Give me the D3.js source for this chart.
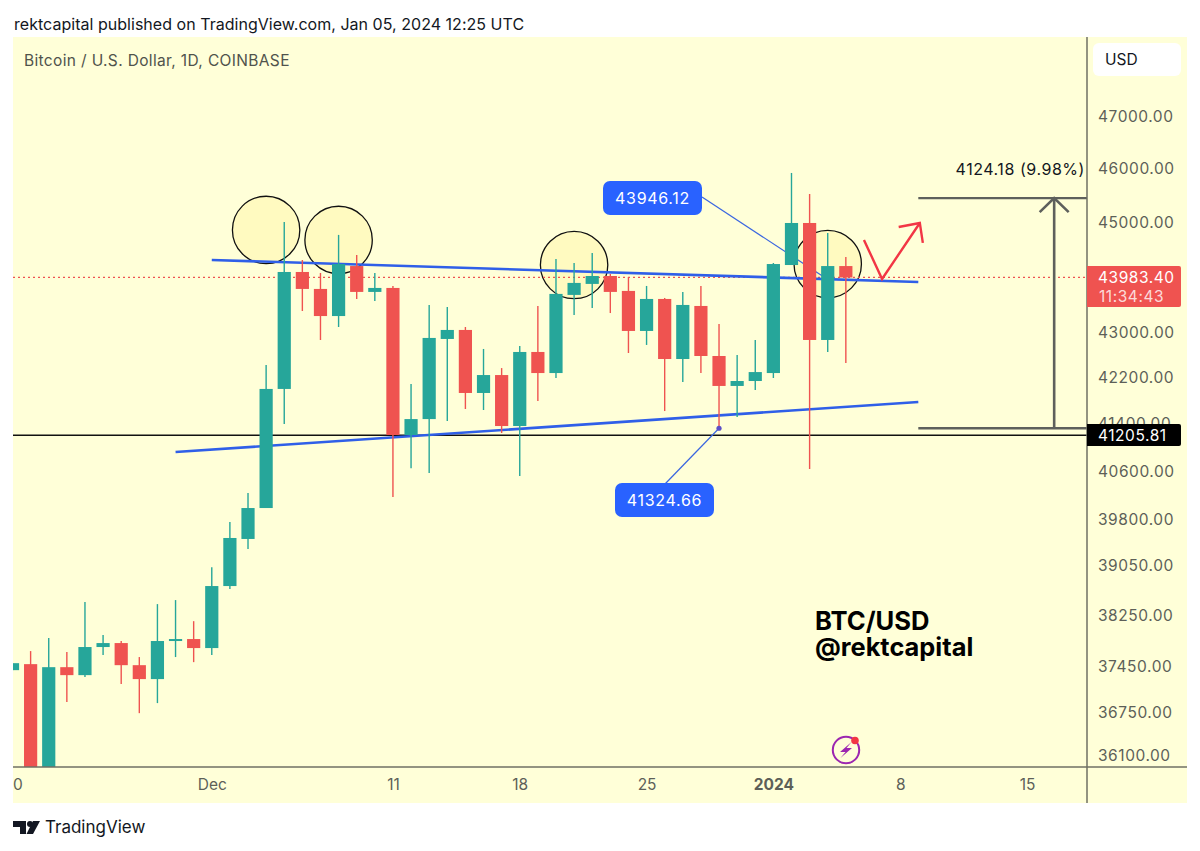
<!DOCTYPE html>
<html><head><meta charset="utf-8">
<script src="https://cdnjs.cloudflare.com/ajax/libs/d3/7.8.5/d3.min.js"></script>
<style>html,body{margin:0;padding:0;background:#fff}svg{display:block}text{font-family:Inter,"Noto Sans",sans-serif}</style>
</head><body><svg id="c" width="1200" height="851"></svg>
<script>
const dates=["2023-11-20","2023-11-21","2023-11-22","2023-11-23","2023-11-24","2023-11-25","2023-11-26","2023-11-27","2023-11-28","2023-11-29","2023-11-30","2023-12-01","2023-12-02","2023-12-03","2023-12-04","2023-12-05","2023-12-06","2023-12-07","2023-12-08","2023-12-09","2023-12-10","2023-12-11","2023-12-12","2023-12-13","2023-12-14","2023-12-15","2023-12-16","2023-12-17","2023-12-18","2023-12-19","2023-12-20","2023-12-21","2023-12-22","2023-12-23","2023-12-24","2023-12-25","2023-12-26","2023-12-27","2023-12-28","2023-12-29","2023-12-30","2023-12-31","2024-01-01","2024-01-02","2024-01-03","2024-01-04","2024-01-05"];
const opens=[37392,37485,35770,37438,37315,37751,37813,37469,37254,37845,37876,37735,38715,39476,39984,42002,44083,43775,43287,44191,43721,43793,41210,41482,42879,43039,41932,42244,41363,42649,42279,43667,43866,44010,43739,43021,43594,42525,43468,42578,42054,42140,42279,44210,44985,42861,44191];
const highs=[37500,37688,37892,37673,38459,37939,37845,37595,38427,38491,38157,39019,39752,40233,42418,45004,44302,44065,44764,44394,44065,43829,42088,43486,43450,43092,42702,42366,42755,43468,44321,44247,44431,44046,43992,43829,43612,43721,43829,43145,42596,42861,44247,45925,45529,44801,44357];
const lows=[37392,35640,35650,36902,37285,37626,37177,36733,36886,37595,37516,37626,38667,39312,39984,41397,43377,42861,43092,43594,43558,40167,40649,40566,41448,41655,41638,41244,40516,41794,42192,43305,43431,43341,42631,42773,41620,42123,42279,41325,41516,41984,42192,44210,40633,42649,42454];
const closes=[37500,35770,37438,37315,37751,37813,37469,37254,37845,37876,37735,38715,39492,39984,42002,44083,43775,43287,44228,43721,43793,41210,41482,42897,43039,41932,42244,41363,42649,42279,43685,43884,44010,43721,43021,43594,42525,43486,42578,42054,42140,42296,44228,44985,42861,44191,43983.4];

const priceTicks=[47000,46000,45000,43000,42200,41400,40600,39800,39050,38250,37450,36750,36100];
const dateTicks=["2023-11-20","2023-12-01","2023-12-11","2023-12-18","2023-12-25","2024-01-01","2024-01-08","2024-01-15"];
const dateLabels=["20","Dec","11","18","25","2024","8","15"];

const lastPrice=43983.40, supportPrice=41205.81;
const measureLow=41324.66, measureHigh=45448.84;
const upperTrendDates=["2023-12-01","2024-01-09"], upperTrendPrices=[44302,43902];
const lowerTrendDates=["2023-11-29","2024-01-09"], lowerTrendPrices=[40921,41776];
const circleDates=["2023-12-04","2023-12-08","2023-12-21","2024-01-04"], circlePrices=[44856,44671,44210,44228];
const arrowDates=["2024-01-06","2024-01-07T00:00","2024-01-09T02:00"], arrowPrices=[44671,43955,44985];
const arrowHeadDates=["2024-01-07T22:00","2024-01-09T02:00","2024-01-09T06:00"], arrowHeadPrices=[44911,44985,44616];
const calloutDates=["2024-01-04","2023-12-29"], calloutPrices=[43946.12,41324.66];

const P={l:13,r:1187,t:37,b:803,ax:1087,ay:767};
const parse=s=>new Date(s.length>10?s+"Z":s+"T00:00Z");
const x=d3.scaleUtc().domain([parse("2023-11-20"),parse("2024-01-15")]).range([12.5,1027]);
const y=d3.scaleLog().domain([47000,36100]).range([117,755.2]);

const svg=d3.select("#c");
const defs=svg.append("defs");
defs.append("clipPath").attr("id","plot").append("rect").attr("x",P.l).attr("y",P.t).attr("width",P.ax-P.l).attr("height",P.ay-P.t);

svg.append("rect").attr("x",P.l).attr("y",P.t).attr("width",P.r-P.l).attr("height",P.b-P.t).attr("fill","#ffffd8");

const g=svg.append("g").attr("clip-path","url(#plot)");
const under=g.append("g");

// circles behind the candles
under.selectAll("circle.h").data(circleDates).join("circle").attr("class","h")
 .attr("cx",d=>x(parse(d))).attr("cy",(d,i)=>y(circlePrices[i])).attr("r",33.7)
 .attr("fill","#fff6a8").attr("fill-opacity",.5).attr("stroke","#111").attr("stroke-width",1.3);

// price lines
under.append("line").attr("x1",P.l).attr("x2",P.ax).attr("y1",y(lastPrice)).attr("y2",y(lastPrice))
 .attr("stroke","#ef5350").attr("stroke-width",1.2).attr("stroke-dasharray","2 3");
under.append("line").attr("x1",P.l).attr("x2",P.ax).attr("y1",y(supportPrice)).attr("y2",y(supportPrice))
 .attr("stroke","#111").attr("stroke-width",1.5);

// trend lines
[[upperTrendDates,upperTrendPrices],[lowerTrendDates,lowerTrendPrices]].forEach(([ds,ps])=>{
 under.append("line").attr("x1",x(parse(ds[0]))).attr("x2",x(parse(ds[1]))).attr("y1",y(ps[0])).attr("y2",y(ps[1]))
  .attr("stroke","#2f5fe8").attr("stroke-width",2.6);
});

// callout leader lines
const calloutX=calloutDates.map(d=>x(parse(d))), calloutY=calloutPrices.map(p=>y(p));
under.append("line").attr("x1",702).attr("y1",197).attr("x2",calloutX[0]).attr("y2",calloutY[0]).attr("stroke","#3a66e0").attr("stroke-width",1.2);
under.append("line").attr("x1",665).attr("y1",484).attr("x2",calloutX[1]).attr("y2",calloutY[1]).attr("stroke","#3a66e0").attr("stroke-width",1.2);

// candles
const idx=d3.range(dates.length), col=i=>closes[i]>=opens[i]?"#26a69a":"#ef5350";
g.selectAll("line.w").data(idx).join("line").attr("class","w")
 .attr("x1",i=>x(parse(dates[i]))).attr("x2",i=>x(parse(dates[i])))
 .attr("y1",i=>y(highs[i])).attr("y2",i=>y(lows[i]))
 .attr("stroke",col).attr("stroke-width",1.4);
g.selectAll("rect.b").data(idx).join("rect").attr("class","b")
 .attr("x",i=>x(parse(dates[i]))-6.6).attr("width",13.2)
 .attr("y",i=>y(Math.max(opens[i],closes[i])))
 .attr("height",i=>Math.max(1.5,y(Math.min(opens[i],closes[i]))-y(Math.max(opens[i],closes[i]))))
 .attr("fill",col);

g.append("circle").attr("cx",calloutX[1]).attr("cy",calloutY[1]).attr("r",2.6).attr("fill","#5b4fc8");

// measure tool
const mx1=x(parse("2024-01-09")), mx2=P.ax, mxA=x(parse("2024-01-16T12:00"));
const yHi=y(measureHigh), yLo=y(measureLow), grey="#5e605c";
[yHi,yLo].forEach(v=>g.append("line").attr("x1",mx1).attr("x2",mx2).attr("y1",v).attr("y2",v).attr("stroke",grey).attr("stroke-width",2.4));
g.append("line").attr("x1",mxA).attr("x2",mxA).attr("y1",yLo).attr("y2",yHi).attr("stroke",grey).attr("stroke-width",2.6);
g.append("path").attr("d",d3.line()([[mxA-14.5,yHi+14],[mxA,yHi],[mxA+14.5,yHi+14]])).attr("fill","none").attr("stroke",grey).attr("stroke-width",2.6);
svg.append("text").attr("x",1085).attr("y",174.5).attr("text-anchor","end").attr("font-size",16).attr("letter-spacing",.55).attr("fill","#131722").text("4124.18 (9.98%)");

// red sketch arrow
const arrowLine=d3.line().x(d=>x(parse(d[0]))).y(d=>y(d[1]));
g.append("path").attr("d",arrowLine(arrowDates.map((d,i)=>[d,arrowPrices[i]]))).attr("fill","none").attr("stroke","#f23645").attr("stroke-width",2.4);
g.append("path").attr("d",arrowLine(arrowHeadDates.map((d,i)=>[d,arrowHeadPrices[i]]))).attr("fill","none").attr("stroke","#f23645").attr("stroke-width",2.4);

// callout boxes
[[603,181,calloutPrices[0]],[615,483,calloutPrices[1]]].forEach(([bx,by,v])=>{
 svg.append("rect").attr("x",bx).attr("y",by).attr("width",99).attr("height",34).attr("rx",7).attr("fill","#2962ff");
 svg.append("text").attr("x",bx+49.5).attr("y",by+23).attr("text-anchor","middle").attr("font-size",16).attr("letter-spacing",.7).attr("fill","#fff").text(v.toFixed(2));
});

// axes
const yAxis=d3.axisRight(y).tickValues(priceTicks).tickSize(0).tickPadding(11).tickFormat(d3.format(".2f"));
const ya=svg.append("g").attr("transform",`translate(${P.ax},0)`).call(yAxis);
ya.select(".domain").remove();
ya.selectAll("text").attr("font-size",15.5).attr("letter-spacing",.55).attr("fill","#5d5f58").style("font-family","Inter,sans-serif");
const xAxis=d3.axisBottom(x).tickValues(dateTicks.map(parse)).tickSize(0).tickPadding(12).tickFormat((d,i)=>dateLabels[i]);
const xa=svg.append("g").attr("transform",`translate(0,${P.ay})`).call(xAxis);
xa.select(".domain").remove();
xa.selectAll("text").attr("font-size",15.5).attr("fill","#5d5f58").style("font-family","Inter,sans-serif")
  .attr("font-weight",(d,i)=>dateLabels[i]==="2024"?700:400);
xa.selectAll(".tick").filter((d,i)=>i===0).select("text").attr("text-anchor","start").text("0");

svg.append("line").attr("x1",P.ax).attr("x2",P.ax).attr("y1",P.t).attr("y2",P.b).attr("stroke","#6f7064").attr("stroke-width",1.5);
svg.append("line").attr("x1",P.l).attr("x2",P.r).attr("y1",P.ay).attr("y2",P.ay).attr("stroke","#6f7064").attr("stroke-width",1.5);

// price tags
svg.append("path").attr("d","M1087 266H1179a2 2 0 0 1 2 2V305a2 2 0 0 1 -2 2H1087Z").attr("fill","#ef5350");
svg.append("text").attr("x",1098).attr("y",282.5).attr("font-size",15.5).attr("letter-spacing",.55).attr("fill","#fff").text(lastPrice.toFixed(2));
svg.append("text").attr("x",1099).attr("y",301.5).attr("font-size",15.5).attr("letter-spacing",.55).attr("fill","#fff").attr("fill-opacity",.8).text("11:34:43");
svg.append("path").attr("d","M1087 424H1179a2 2 0 0 1 2 2V444a2 2 0 0 1 -2 2H1087Z").attr("fill","#000");
svg.append("text").attr("x",1098).attr("y",440.5).attr("font-size",15.5).attr("letter-spacing",.55).attr("fill","#fff").text(supportPrice.toFixed(2));

// USD button
svg.append("rect").attr("x",1093).attr("y",43).attr("width",88).attr("height",33).attr("rx",6).attr("fill","#fff");
svg.append("text").attr("x",1105).attr("y",64.5).attr("font-size",15.5).attr("fill","#131722").text("USD");

// header texts
svg.append("text").attr("x",14).attr("y",30).attr("font-size",16).attr("letter-spacing",.03).attr("fill","#131722").text("rektcapital published on TradingView.com, Jan 05, 2024 12:25 UTC");
svg.append("text").attr("x",24).attr("y",66).attr("font-size",15.5).attr("letter-spacing",.35).attr("fill","#50534c").text("Bitcoin / U.S. Dollar, 1D, COINBASE");

// watermark
svg.append("text").attr("x",815).attr("y",630).attr("font-size",25.6).attr("font-weight",700).attr("fill","#000").text("BTC/USD");
svg.append("text").attr("x",815).attr("y",656).attr("font-size",25.4).attr("font-weight",700).attr("fill","#000").text("@rektcapital");

// bolt icon
const ic=svg.append("g").attr("transform","translate(846,750)");
ic.append("circle").attr("r",13.2).attr("fill","none").attr("stroke","#9c27b0").attr("stroke-width",2);
ic.append("path").attr("d","M5.5 -8L-6 2H-0.5L-5.5 8L6 -2H0.5Z").attr("fill","#9c27b0");
ic.append("circle").attr("cx",9).attr("cy",-9.5).attr("r",3.8).attr("fill","#f23645");

// TradingView logo
const lg=svg.append("g").attr("fill","#131722");
lg.append("path").attr("d","M13 821H26V834H20V827H13Z");
lg.append("circle").attr("cx",30).attr("cy",824).attr("r",3);
lg.append("path").attr("d","M33 821H40L33 834H26.5Z");
svg.append("text").attr("x",45).attr("y",833).attr("font-size",17).attr("fill","#131722").text("TradingView");
</script></body></html>
